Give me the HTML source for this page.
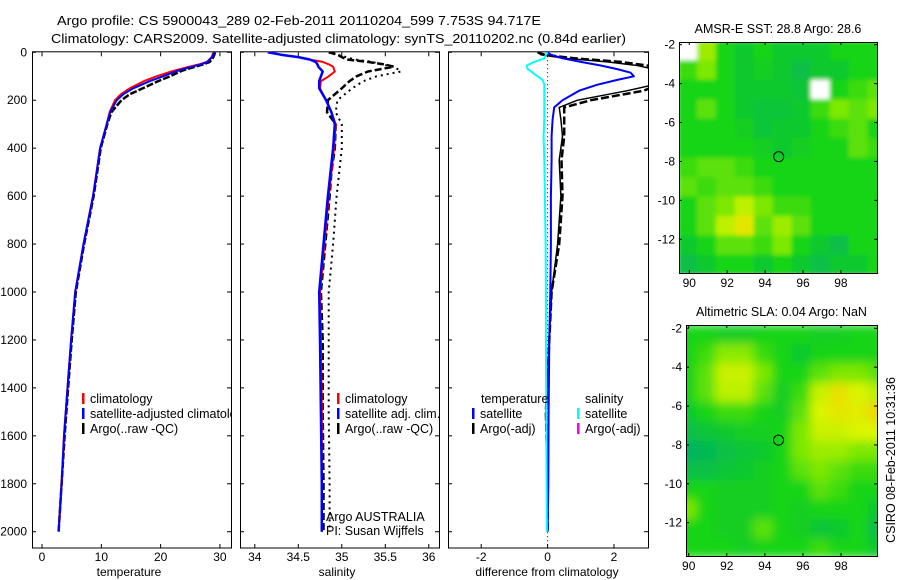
<!DOCTYPE html>
<html><head><meta charset="utf-8"><style>
html,body{margin:0;padding:0;background:#fff;}
svg{display:block;font-family:"Liberation Sans",sans-serif;}
</style></head><body>
<svg id="fig" width="900" height="580" viewBox="0 0 900 580" xmlns="http://www.w3.org/2000/svg">
<rect x="0" y="0" width="900" height="580" fill="#fff"/>
<text x="57" y="25" font-size="13" textLength="484" lengthAdjust="spacingAndGlyphs">Argo profile: CS 5900043_289 02-Feb-2011 20110204_599 7.753S 94.717E</text>
<text x="51" y="43" font-size="13" textLength="575" lengthAdjust="spacingAndGlyphs">Climatology: CARS2009. Satellite-adjusted climatology: synTS_20110202.nc (0.84d earlier)</text>
<g id="plots"></g>
</svg>
<script>
// ---------- data ----------
const depthTicks=[0,200,400,600,800,1000,1200,1400,1600,1800,2000];
const tempTicks=[0,10,20,30];
const salTicks=[34,34.5,35,35.5,36];
const salTickLabels=["34","34.5","35","35.5","36"];
const diffTicks=[-2,0,2];

const depthT=[0,20,40,50,60,70,80,100,120,150,175,200,250,300,400,500,600,800,1000,1200,1400,1600,1800,2000];
const climT=[28.9,28.6,27.8,26.5,24.8,23.3,21.8,19.3,17.2,14.8,13.3,12.3,11.4,10.9,9.8,9.2,8.6,7.0,5.6,4.9,4.3,3.7,3.3,2.8];
const satT=[29.0,28.7,27.9,26.8,25.3,23.9,22.5,20.4,18.2,15.4,13.7,12.6,11.5,10.9,9.8,9.2,8.6,7.0,5.6,4.9,4.3,3.7,3.3,2.8];
const argoT=[29.2,28.9,28.3,27.2,25.9,24.4,23.3,21.6,19.6,17.0,14.8,13.4,11.7,11.0,9.9,9.3,8.7,7.1,5.7,5.0,4.4,3.8,3.3,2.8];

const depthS=[0,10,20,30,40,50,60,80,100,120,150,200,250,300,400,500,600,800,1000,1200,1500,1800,2000];
const climS=[34.15,34.3,34.5,34.63,34.78,34.85,34.9,34.92,34.85,34.76,34.75,34.82,34.88,34.93,34.91,34.88,34.85,34.8,34.75,34.76,34.77,34.77,34.77];
const satS=[34.15,34.3,34.5,34.63,34.7,34.72,34.73,34.78,34.76,34.74,34.74,34.82,34.88,34.92,34.9,34.87,34.84,34.79,34.74,34.75,34.76,34.77,34.77];
const argoS=[34.85,34.95,35.0,35.06,35.3,35.48,35.6,35.3,35.17,35.09,35.0,34.84,34.83,34.93,34.92,34.88,34.86,34.81,34.76,34.78,34.78,34.79,34.79];
const argoSraw=[34.9,34.95,35.05,35.15,35.35,35.45,35.6,35.68,35.4,35.25,35.12,34.95,34.93,35.0,35.0,34.97,34.94,34.9,34.85,34.85,34.85,34.86,34.86];

const depthD=[0,10,25,40,55,70,85,100,115,135,160,200,230,280,350,450,600,800,1000,1200,1500,1800,2000];
const satTD=[0,0.1,0.45,1.0,1.6,2.1,2.5,2.6,2.1,1.5,0.95,0.45,0.2,0.15,0.12,0.12,0.1,0.1,0.08,0.05,0.03,0.02,0.0];
const satSD=[0,-0.05,-0.1,-0.4,-0.63,-0.6,-0.45,-0.3,-0.15,-0.1,-0.1,-0.1,-0.1,-0.1,-0.12,-0.1,-0.08,-0.06,-0.05,-0.05,-0.04,-0.03,-0.02];
const argoTD=[-0.3,-0.2,0.5,1.8,2.7,3.2,3.3,3.3,3.3,3.2,2.4,0.9,0.35,0.4,0.45,0.35,0.4,0.3,0.12,0.05,-0.05,0.0,0.0];
const argoTDraw=[-0.3,-0.1,0.8,2.2,3.0,3.3,3.3,3.3,3.3,3.3,2.9,1.3,0.5,0.5,0.5,0.42,0.45,0.35,0.12,0.05,-0.05,0.0,0.0];

const lonTicks=[90,92,94,96,98];
const latTicks=[-2,-4,-6,-8,-10,-12];
const sstGrid=[
[-1,0.65,0.45,0.4,0.45,0.4,0.4,0.4,0.45,0.45,0.45],
[0.5,0.6,0.45,0.4,0.42,0.4,0.35,0.4,0.4,0.45,0.45],
[0.45,0.45,0.45,0.4,0.4,0.4,0.38,-1,0.45,0.5,0.55],
[0.45,0.55,0.45,0.4,0.38,0.38,0.4,0.5,0.6,0.55,0.6],
[0.45,0.45,0.45,0.42,0.38,0.4,0.4,0.45,0.5,0.55,0.45],
[0.45,0.45,0.45,0.45,0.42,0.4,0.42,0.45,0.45,0.55,0.5],
[0.5,0.55,0.55,0.5,0.45,0.45,0.45,0.45,0.45,0.45,0.45],
[0.55,0.5,0.55,0.55,0.5,0.45,0.45,0.45,0.45,0.45,0.45],
[0.45,0.55,0.6,0.7,0.6,0.5,0.5,0.45,0.45,0.45,0.45],
[0.45,0.55,0.7,0.8,0.55,0.65,0.55,0.45,0.45,0.45,0.45],
[0.4,0.45,0.55,0.55,0.5,0.6,0.45,0.4,0.35,0.45,0.45],
[0.35,0.4,0.45,0.45,0.4,0.45,0.4,0.35,0.4,0.4,0.45]];
const slaGrid=[
[0.45,0.45,0.42,0.42,0.45,0.45,0.45,0.42,0.42,0.45,0.45],
[0.45,0.5,0.62,0.62,0.5,0.45,0.4,0.45,0.45,0.45,0.45],
[0.45,0.55,0.72,0.72,0.6,0.45,0.45,0.55,0.6,0.6,0.55],
[0.45,0.55,0.7,0.7,0.55,0.42,0.5,0.72,0.82,0.75,0.7],
[0.4,0.45,0.5,0.5,0.45,0.42,0.55,0.75,0.8,0.78,0.85],
[0.35,0.38,0.4,0.42,0.42,0.45,0.6,0.72,0.72,0.75,0.75],
[0.3,0.32,0.35,0.38,0.4,0.45,0.6,0.65,0.65,0.6,0.6],
[0.35,0.35,0.38,0.4,0.42,0.45,0.55,0.6,0.55,0.5,0.5],
[0.45,0.45,0.42,0.42,0.42,0.45,0.45,0.55,0.5,0.45,0.45],
[0.6,0.45,0.42,0.42,0.42,0.45,0.42,0.45,0.45,0.45,0.4],
[0.45,0.45,0.42,0.42,0.55,0.45,0.42,0.38,0.4,0.45,0.35],
[0.45,0.45,0.45,0.42,0.45,0.45,0.45,0.5,0.45,0.45,0.4]];
const gridLon0=89.4, gridLat0=-1.8;
const argoLon=94.717, argoLat=-7.753;

// ---------- helpers ----------
const NS="http://www.w3.org/2000/svg";
const root=document.getElementById('plots');
function mk(tag,attrs,parent){const e=document.createElementNS(NS,tag);for(const k in attrs)e.setAttribute(k,attrs[k]);(parent||root).appendChild(e);return e;}
const Y0=52.3, YS=0.2397, BOT=548;
const yD=d=>Y0+d*YS;
const panels=[
 {id:'temperature',x0:32,x1:231,v0:-1.69,s:5.93},
 {id:'salinity',x0:240,x1:439,v0:33.83,s:87},
 {id:'difference',x0:448,x1:648,v0:-3.0,s:33.2}];
panels.forEach(p=>p.fx=v=>p.x0+(v-p.v0)*p.s);

let defs=mk('defs',{});
panels.forEach((p,i)=>{const c=mk('clipPath',{id:'clip'+i},defs);mk('rect',{x:p.x0,y:Y0-0.5,width:p.x1-p.x0,height:BOT-Y0},c);});

function drawAxes(p,i,ticks,labels,xlabel,cx){
  const g=mk('g',{});
  
  
  const r=mk('rect',{x:p.x0+.5,y:Y0-.5,width:p.x1-p.x0,height:BOT-Y0+.5,fill:'none',stroke:'#000','stroke-width':1},g);
  
  
  depthTicks.forEach(d=>{const y=yD(d);
    mk('line',{x1:p.x0,x2:p.x0+4,y1:y,y2:y,stroke:'#000'},g);
    mk('line',{x1:p.x1-4,x2:p.x1,y1:y,y2:y,stroke:'#000'},g);
    if(i===0){const t=mk('text',{x:27,y:y+4,'font-size':12,'text-anchor':'end'},g);t.textContent=String(d);
      
      }
  });
  ticks.forEach((v,k)=>{const x=p.fx(v);
    mk('line',{x1:x,x2:x,y1:Y0,y2:Y0+4,stroke:'#000'},g);
    mk('line',{x1:x,x2:x,y1:BOT-4,y2:BOT,stroke:'#000'},g);
    const t=mk('text',{x:x,y:561,'font-size':12,'text-anchor':'middle'},g);t.textContent=labels[k];
    
    
  });
  const t=mk('text',{x:cx,y:576,'font-size':12,'text-anchor':'middle'},g);t.textContent=xlabel;
  
  
}
drawAxes(panels[0],0,tempTicks,tempTicks.map(String),'temperature',129);
drawAxes(panels[1],1,salTicks,salTickLabels,'salinity',337);
drawAxes(panels[2],2,diffTicks,diffTicks.map(String),'difference from climatology',547);

function line(p,i,depths,vals,color,w,dash,name){
  const pts=depths.map((d,k)=>p.fx(vals[k]).toFixed(1)+','+yD(d).toFixed(1)).join(' ');
  const e=mk('polyline',{points:pts,fill:'none',stroke:color,'stroke-width':w,'clip-path':'url(#clip'+i+')','stroke-linejoin':'round'});
  if(dash)e.setAttribute('stroke-dasharray',dash);
  
  
}
const P=panels;
line(P[0],0,depthT,argoT,'#000',2.5,'7,2','argo-temperature-line');
line(P[0],0,depthT,climT,'#f00',2,null,'climatology-temperature-line');
line(P[0],0,depthT,satT,'#00f',2,null,'satellite-temperature-line');
line(P[1],1,depthS,argoSraw,'#000',2,'2,4','argo-raw-salinity-line');
line(P[1],1,depthS,argoS,'#000',2.5,'7,3','argo-salinity-line');
line(P[1],1,depthS,climS,'#f00',2,null,'climatology-salinity-line');
line(P[1],1,depthS,satS,'#00f',2.5,null,'satellite-salinity-line');
{const x=P[2].fx(0);const z=mk('line',{x1:x,x2:x,y1:Y0,y2:BOT,stroke:'#000','stroke-width':1,'stroke-dasharray':'1,3'});
 
 }
line(P[2],2,depthD,argoTDraw,'#000',2.5,'8,3','argo-raw-temp-diff-line');
line(P[2],2,depthD,argoTD,'#000',1.5,null,'argo-temp-diff-line');
line(P[2],2,depthD,satTD,'#00f',2,null,'satellite-temp-diff-line');
line(P[2],2,depthD,satSD,'#0ff',2,null,'satellite-sal-diff-line');

function legend(x,y,items,name){
  const g=mk('g',{});
  
  
  items.forEach((it,k)=>{const yy=y+k*15;
    if(it[1])mk('rect',{x:x,y:yy-10,width:2.5,height:11,fill:it[1]},g);
    const t=mk('text',{x:x+(it[1]?8:0),y:yy,'font-size':12.5},g);t.textContent=it[0];
    
    
  });
  return g;
}
legend(82,403,[['climatology','#f00'],['satellite-adjusted climatology','#00f'],['Argo(..raw -QC)','#000']],'temperature-legend').setAttribute('clip-path','url(#clip0)');
legend(337,403,[['climatology','#f00'],['satellite adj. clim.','#00f'],['Argo(..raw -QC)','#000']],'salinity-legend');
legend(481,403,[['temperature',null]],'diff-legend-temp-title');
legend(472,418,[['satellite','#00f'],['Argo(-adj)','#000']],'diff-legend-temp');
legend(585,403,[['salinity',null]],'diff-legend-sal-title');
legend(577,418,[['satellite','#0ff'],['Argo(-adj)','#f0f']],'diff-legend-sal');
{const g=mk('g',{});
 const a=mk('text',{x:326,y:521,'font-size':12.5},g);a.textContent='Argo AUSTRALIA';
 const b=mk('text',{x:326,y:535,'font-size':12.5},g);b.textContent='PI: Susan Wijffels';}

// ---------- maps ----------
const stops=[[0.3,[0,180,95]],[0.45,[25,212,20]],[0.6,[125,232,0]],[0.75,[220,245,0]],[0.9,[245,200,0]]];
function cmap(v){if(v<=stops[0][0])return 'rgb('+stops[0][1]+')';
  for(let k=1;k<stops.length;k++){if(v<=stops[k][0]){const a=stops[k-1],b=stops[k],t=(v-a[0])/(b[0]-a[0]);
    return 'rgb('+a[1].map((c,j)=>Math.round(c+(b[1][j]-c)*t)).join(',')+')';}}
  return 'rgb('+stops[stops.length-1][1]+')';}
function drawMap(m){
  const fx=lon=>m.x90+(lon-90)*m.sx, fy=lat=>m.y2+(-2-lat)*m.sy;
  const g=mk('g',{});
  
  
  const cp=mk('clipPath',{id:m.name+'-clip'},defs);mk('rect',{x:m.l,y:m.t,width:m.r-m.l,height:m.b-m.t},cp);
  if(m.blur){const f=mk('filter',{id:m.name+'-blur',x:'-5%',y:'-5%',width:'110%',height:'110%'},defs);mk('feGaussianBlur',{stdDeviation:m.blur},f);}
  const cg=mk('g',{'clip-path':'url(#'+m.name+'-clip)'},g);
  const hg=mk('g',m.blur?{filter:'url(#'+m.name+'-blur)'}:{},cg);
  m.grid.forEach((row,ri)=>row.forEach((v,ci)=>{
    const x=fx(gridLon0+ci), y=fy(gridLat0-ri);
    const c=mk('rect',{x:x,y:y,width:m.sx+0.6,height:m.sy+0.6,fill:v<0?'#fff':cmap(v)},hg);
    
    
  }));
  const ci=mk('circle',{cx:fx(argoLon),cy:fy(argoLat),r:5,fill:'none',stroke:'#000','stroke-width':1},cg);
  
  
  mk('rect',{x:m.l+.5,y:m.t+.5,width:m.r-m.l,height:m.b-m.t,fill:'none',stroke:'#000'},g);
  lonTicks.forEach(lon=>{const x=fx(lon);mk('line',{x1:x,x2:x,y1:m.t,y2:m.t+3,stroke:'#000'},g);mk('line',{x1:x,x2:x,y1:m.b-3,y2:m.b,stroke:'#000'},g);
    const t=mk('text',{x:x,y:m.b+14,'font-size':12,'text-anchor':'middle'},g);t.textContent=String(lon);
    
    });
  latTicks.forEach(lat=>{const y=fy(lat);mk('line',{x1:m.l,x2:m.l+3,y1:y,y2:y,stroke:'#000'},g);mk('line',{x1:m.r-3,x2:m.r,y1:y,y2:y,stroke:'#000'},g);
    const t=mk('text',{x:m.l-4,y:y+4,'font-size':12,'text-anchor':'end'},g);t.textContent=String(lat);
    
    });
  const t=mk('text',{x:(m.l+m.r)/2,y:m.t-9,'font-size':12.5,'text-anchor':'middle'},g);t.textContent=m.title;
  
  
}
drawMap({name:'sst-map',title:'AMSR-E SST: 28.8 Argo: 28.6',grid:sstGrid,l:679,r:877,t:42,b:273,x90:689.3,sx:18.95,y2:44.7,sy:19.46,blur:2});
drawMap({name:'sla-map',title:'Altimetric SLA: 0.04 Argo: NaN',grid:slaGrid,l:686,r:877,t:325,b:556,x90:688.7,sx:19.04,y2:328.3,sy:19.44,blur:5});
{const t=mk('text',{x:0,y:0,'font-size':12.5,'text-anchor':'middle',transform:'translate(895,460) rotate(-90)'});
 t.textContent='CSIRO 08-Feb-2011 10:31:36';
 
 }
</script>
</body></html>
